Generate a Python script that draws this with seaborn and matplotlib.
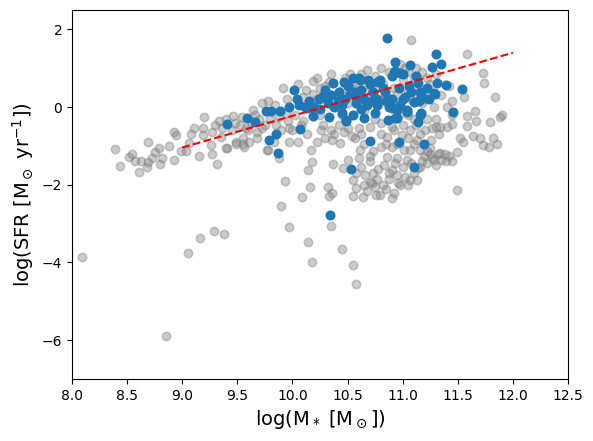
import numpy as np
import pandas as pd
import matplotlib
matplotlib.use("Agg")
import matplotlib.pyplot as plt
import seaborn as sns

# all galaxies (grey)
gray_low_mass = [
    (8.09, -3.86), (8.85, -5.90), (8.39, -1.09), (8.44, -1.52), (8.52, -1.29),
    (8.54, -1.20), (8.57, -1.38), (8.61, -1.66), (8.63, -1.38), (8.68, -1.53),
    (8.69, -0.90), (8.69, -1.41), (8.73, -1.32), (8.75, -1.15), (8.79, -1.05),
    (8.80, -1.47), (8.82, -1.32), (8.88, -1.01), (8.93, -0.63), (8.94, -0.73),
    (8.93, -1.36), (8.99, -1.13), (9.03, -1.13), (9.06, -0.93), (9.08, -0.70),
    (9.05, -3.76),
]
gray_mid_mass = [
    (9.11, -0.55), (9.15, -1.26), (9.19, -0.55), (9.20, -0.26), (9.19, -0.72),
    (9.26, -0.98), (9.27, -0.63), (9.30, -0.46), (9.32, -1.47), (9.27, -1.20),
    (9.41, -1.06), (9.35, -0.76), (9.40, -0.30), (9.46, -0.24), (9.48, -0.40),
    (9.49, -0.89), (9.54, -0.25), (9.56, -1.02), (9.55, -0.80), (9.61, -0.90),
    (9.64, -0.07), (9.68, -0.65), (9.72, 0.10), (9.78, 0.15), (9.77, -1.10),
    (9.83, -0.90), (9.85, -0.46), (9.88, -1.32), (9.90, -0.60), (9.91, 0.50),
    (9.95, 0.20), (9.96, -0.35), (9.97, -0.89), (9.93, -1.90), (9.90, -2.55),
    (9.97, -3.09), (9.16, -3.38), (9.29, -3.20), (9.38, -3.27), (9.36, -0.55),
    (9.45, -0.60), (9.52, -0.45), (9.58, -0.55), (9.62, -0.35), (9.70, -0.30),
    (9.75, -0.45), (9.80, -0.30), (9.49, -0.95), (9.55, -0.95), (9.68, -0.80),
    (9.40, -1.05), (9.78, -1.10), (9.97, -0.55), (9.84, 0.05), (9.60, -0.60),
    (9.72, -0.55), (9.88, -0.25), (9.94, -0.15), (9.66, -0.20), (9.33, -0.35),
]
gray_main = [
    (10.05, 0.59), (10.19, 0.67), (10.10, -0.35), (10.13, -0.70), (10.17, -1.10),
    (10.18, -1.42), (10.14, -1.63), (10.16, -2.06), (10.09, -2.31), (10.19, 0.35),
    (10.14, -3.48), (10.18, -3.99), (10.35, -3.07), (10.45, -3.66), (10.55, -4.07),
    (10.58, -4.56), (10.32, -2.06), (10.33, -2.30), (10.25, 0.50), (10.30, 0.55),
    (10.22, 0.20), (10.28, -0.45), (10.35, -0.60), (10.30, -0.80), (10.26, -0.60),
    (10.36, -0.85), (10.38, -0.70), (10.43, -0.93), (10.37, -1.47), (10.36, -2.20),
    (10.00, -0.60), (10.05, -0.90), (10.22, -0.90), (10.10, 0.25), (10.15, 0.05),
    (10.02, -0.20), (10.40, 0.00), (10.45, -0.20), (10.22, 0.75),
    (10.40, 0.35), (10.45, 0.45), (10.50, 0.10), (10.55, 0.50), (10.60, 0.20),
    (10.62, 0.85), (10.65, 0.55), (10.70, 0.30), (10.75, 0.80), (10.78, 0.05),
    (10.82, 0.60), (10.85, 0.30), (10.88, 0.90), (10.92, 0.50), (10.95, 0.10),
    (11.00, 0.70), (11.02, 1.00), (11.05, 0.40), (11.08, 0.20), (11.10, 0.75),
    (11.12, 1.00), (11.15, 0.50), (11.18, 0.90), (11.20, 0.20), (11.22, 0.75),
    (11.25, 0.30), (11.28, 0.00), (11.30, 0.85), (11.08, 1.72), (10.98, 1.10),
    (10.60, -0.55), (10.70, -0.50), (10.90, -0.50), (11.00, -0.45), (11.10, -0.30),
    (11.20, -0.60), (11.30, -0.30), (10.50, -0.55), (10.65, -0.95), (10.95, -0.95),
    (11.10, -0.95), (11.25, -1.05), (10.57, -0.80), (10.54, -0.74), (10.80, -0.70),
    (10.86, -0.76), (10.99, -0.72), (11.07, -0.60), (11.13, -0.85), (11.16, -0.70),
    (11.26, -0.85), (11.34, -0.50), (11.40, -0.52), (10.35, 0.85), (10.52, 0.85),
    (10.68, 0.95), (10.80, 1.00), (10.42, -0.45), (10.75, -0.30), (11.05, -0.20),
    (10.12, 0.45), (10.28, 0.30), (10.33, 0.65), (10.48, 0.75), (10.58, 0.60),
    (10.72, 0.45), (10.83, 0.20), (10.95, 0.35), (11.05, 0.90), (11.18, 0.10),
    (11.25, 0.60), (10.65, -0.10), (10.80, -0.40), (10.97, -0.20), (11.12, -0.45),
    (11.22, -0.30), (11.33, -0.70), (11.05, -0.80), (10.85, -0.95), (10.62, -0.70),
    (10.47, -0.65), (10.25, -0.20), (10.08, -0.45), (11.27, -0.55), (10.92, -0.60),
]
gray_quenched = [
    (10.46, -1.58), (10.50, -1.35), (10.55, -1.88), (10.58, -2.09), (10.55, -2.29),
    (10.64, -2.31), (10.70, -1.92), (10.72, -1.95), (10.73, -1.70), (10.79, -2.26),
    (10.83, -1.49), (10.90, -1.62), (10.95, -1.75), (10.96, -1.96), (11.07, -1.88),
    (11.13, -1.88), (11.16, -1.53), (11.28, -1.36), (11.34, -1.19), (11.39, -1.38),
    (11.49, -1.15), (11.49, -2.13), (11.16, -1.10), (11.22, -1.14), (11.04, -1.36),
    (11.01, -1.10), (11.07, -1.10), (10.86, -1.28), (10.90, -1.02), (10.80, -1.02),
    (10.73, -1.14), (10.61, -1.10), (11.38, -1.20), (11.32, -1.20), (11.27, -1.30),
    (11.19, -1.25), (11.30, -1.50), (11.22, -1.45), (11.14, -1.58), (10.65, -2.00),
    (10.68, -2.15), (10.75, -2.05), (10.85, -2.10), (10.92, -2.20), (10.98, -2.00),
    (10.62, -1.55), (10.66, -1.75), (10.88, -1.85), (11.00, -1.55), (10.78, -1.60),
    (10.60, -1.30), (10.95, -1.30), (11.10, -1.70), (10.70, -1.40), (11.45, -1.40),
    (10.77, -1.85), (10.82, -2.00), (10.88, -1.70), (11.02, -1.80), (11.05, -2.00),
    (10.70, -1.25), (10.93, -1.45), (11.08, -1.45), (11.25, -1.20), (11.35, -1.35),
    (11.42, -1.25), (11.18, -1.40), (10.58, -1.70), (10.76, -2.25), (10.90, -2.35),
]
gray_high_mass = [
    (11.58, 1.36), (11.73, 0.87), (11.74, 0.61), (11.56, 0.25), (11.45, 0.17),
    (11.84, 0.25), (11.66, -0.09), (11.58, -0.22), (11.67, -0.37), (11.58, -0.49),
    (11.88, -0.25), (11.90, -0.20), (11.79, -0.39), (11.52, -0.80), (11.55, -0.90),
    (11.64, -0.75), (11.70, -0.80), (11.73, -0.98), (11.78, -1.02), (11.86, -0.96),
    (11.82, -0.80), (11.45, -0.44), (11.30, -0.50), (11.42, 0.55), (11.45, -0.20),
    (11.40, 0.00), (11.35, 0.30),
]

# sub-sample (blue)
blue_pts = [
    (9.41, -0.44), (9.59, -0.29), (9.66, -0.39), (9.76, -0.10), (9.81, -0.10),
    (9.89, -0.10), (9.85, -0.69), (9.79, -0.85), (9.87, -1.17), (10.01, 0.44),
    (10.04, 0.20), (9.97, 0.00), (10.11, 0.00), (10.07, -0.57), (10.19, -0.23),
    (10.24, 0.22), (10.06, 0.05), (10.13, -0.03), (10.27, 0.27), (10.35, 0.30),
    (10.37, 0.61), (10.42, 0.38), (10.47, 0.65), (10.55, 0.76), (10.57, 0.40),
    (10.48, 0.20), (10.41, 0.16), (10.32, 0.10), (10.33, -0.25), (10.25, -0.05),
    (10.49, -0.33), (10.58, 0.25), (10.34, -2.78), (10.86, 1.79), (11.30, 1.38),
    (11.35, 1.12), (11.27, 1.04), (10.93, 1.15), (11.07, 1.08), (10.92, 0.91),
    (10.98, 0.87), (10.61, 0.70), (10.77, 0.65), (10.70, 0.60), (11.31, 0.61),
    (11.39, 0.57), (11.54, 0.46), (11.28, 0.37), (11.17, 0.35), (11.46, -0.12),
    (11.16, -0.21), (11.14, -0.38), (10.95, -0.29), (11.04, -0.12), (10.90, -0.03),
    (10.65, -0.29), (10.49, -0.36), (10.70, -0.87), (10.97, -0.89), (11.19, -0.96),
    (10.53, -1.60), (11.10, -1.53), (11.00, 0.85), (10.93, 0.93), (10.90, 0.80),
    (10.79, 0.69), (10.69, 0.70), (10.60, 0.75), (10.73, 0.40), (10.84, 0.39),
    (10.97, 0.50), (11.06, 0.55), (11.14, 0.61), (11.16, 0.40), (11.02, 0.27),
    (10.90, 0.22), (10.77, 0.22), (10.65, 0.22), (10.58, 0.10), (10.68, 0.06),
    (10.77, 0.05), (10.88, 0.00), (10.98, 0.06), (11.10, 0.14), (11.17, 0.22),
    (11.15, 0.15), (11.04, -0.08), (10.95, -0.07), (10.87, -0.33), (10.93, -0.28),
    (10.55, -0.20), (10.62, -0.05), (11.17, -0.15), (11.29, 0.35), (11.16, 0.20),
    (11.00, 0.20), (10.45, 0.05), (10.52, 0.35), (10.62, 0.45), (10.82, 0.50),
    (10.72, 0.15), (10.45, -0.15), (10.38, 0.00), (10.30, 0.45), (10.15, 0.15),
    (10.20, 0.00), (10.50, 0.55), (11.08, 0.38), (11.24, 0.20), (11.22, 0.50),
    (11.12, 0.80), (10.85, 0.15), (10.75, -0.15),
]

# main-sequence fit
fit_mass = [9.0, 12.0]
fit_sfr = [-1.04, 1.40]

gray = pd.DataFrame(gray_low_mass + gray_mid_mass + gray_main + gray_quenched + gray_high_mass,
                    columns=["mass", "sfr"])
blue = pd.DataFrame(blue_pts, columns=["mass", "sfr"])
fit = pd.DataFrame({"mass": fit_mass, "sfr": fit_sfr})

fig, ax = plt.subplots(figsize=(5.93, 4.41), dpi=100)
fig.subplots_adjust(left=0.1214, right=0.9578, top=0.9773, bottom=0.1406)

sns.scatterplot(data=gray, x="mass", y="sfr", color="gray", alpha=0.4,
                s=36, edgecolor="face", linewidth=1.2, ax=ax)
sns.scatterplot(data=blue, x="mass", y="sfr", color="C0",
                s=36, edgecolor="face", linewidth=1.2, ax=ax)
sns.lineplot(data=fit, x="mass", y="sfr", color="red", linestyle="--", linewidth=1.5, ax=ax)

ax.set_xlim(8.0, 12.5)
ax.set_ylim(-7, 2.5)
ax.set_xticks(np.arange(8.0, 12.51, 0.5))
ax.set_xlabel(r"log(M$_*$ [M$_\odot$])", fontsize=14)
ax.set_ylabel(r"log(SFR [M$_\odot$ yr$^{-1}$])", fontsize=14)

fig.savefig("out.png", dpi=100)
